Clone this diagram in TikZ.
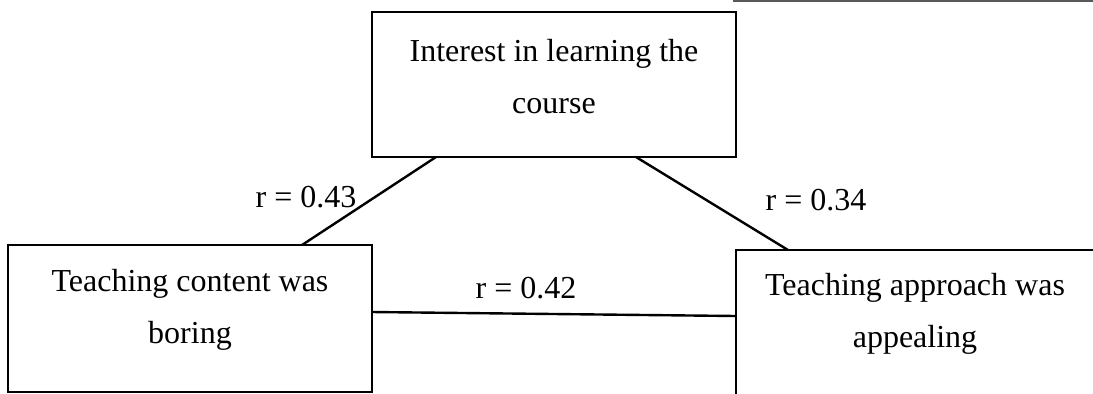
\documentclass[tikz,border=0pt]{standalone}
\usepackage{fontspec}
\setmainfont{Liberation Serif}
\usetikzlibrary{calc}
\begin{document}
\begin{tikzpicture}[x=0.5pt,y=-0.5pt,
  box/.style={draw, line width=1pt, inner sep=0pt, outer sep=0pt},
  txt/.style={font=\fontsize{16}{26}\selectfont, align=center, inner sep=0pt},
  rlab/.style={font=\fontsize{16}{19}\selectfont, inner sep=0pt},
  conn/.style={line width=1.2pt}]
\fill[white] (0,0) rectangle (1093,393);
\useasboundingbox (0,0) rectangle (1093,393);
\clip (0,0) rectangle (1093,393);
% scan edge line at the top
\draw[black!65, line width=0.7pt] (733,1) -- (1093,1);
% boxes
\node[box, minimum width=182pt, minimum height=72.5pt] (T) at (554,84.5) {};
\node[box, minimum width=182pt, minimum height=73.5pt] (L) at (190,318.5) {};
\node[box, minimum width=187pt, minimum height=80pt] (R) at (923,330) {};
% box texts
\node[txt] (Tt) at (554,76.5) {Interest in learning the\\course};
\node[txt] (Lt) at (190,310) {Teaching content was\\boring};
\node[txt] (Rt) at (915,314) {Teaching approach was\\appealing};
% connectors
\draw[conn] ($(T.south west)+(64,0)$) -- ($(L.north west)+(294,0)$);
\draw[conn] ($(T.south west)+(264,0)$) -- ($(R.north west)+(52,0)$);
\draw[conn] ($(L.north east)+(0,67)$) -- ($(R.north west)+(0,66)$);
% correlation labels
\node[rlab] (r1) at (306,197) {r = 0.43};
\node[rlab] (r2) at (816,200) {r = 0.34};
\node[rlab] (r3) at (526,288) {r = 0.42};
\end{tikzpicture}
\end{document}
